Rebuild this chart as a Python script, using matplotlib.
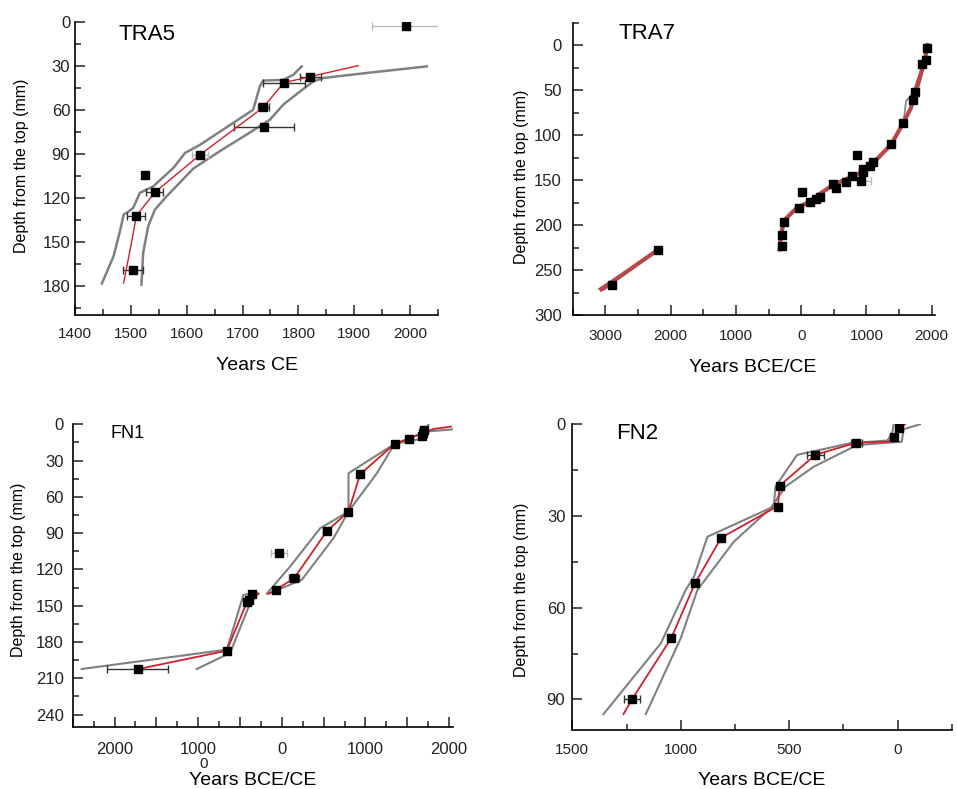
import numpy as np
import matplotlib
matplotlib.use('Agg')
import matplotlib.pyplot as plt
from matplotlib.ticker import MultipleLocator, FuncFormatter

plt.rcParams['font.family'] = ['Liberation Sans', 'DejaVu Sans']

RED = '#d0202c'
RED7 = '#b8464a'
GRAY = '#808080'

# ---------------- TRA5 ----------------
tra5_yr = [1993, 1821, 1774, 1737, 1738, 1624, 1525, 1543, 1510, 1504]
tra5_d = [2.5, 37.3, 41.4, 58.3, 71.5, 90.6, 104.2, 116.3, 132.2, 169.5]
tra5_err = [62, 19, 38, 10, 54, 15, 0, 15, 16, 18]
tra5_light = [True, False, False, False, False, True, False, False, False, False]
tra5_red_yr = [1487, 1501, 1510, 1543, 1624, 1737, 1774, 1821, 1907]
tra5_red_d = [178.2, 150.9, 132.2, 116.3, 90.6, 58.3, 41.4, 37.3, 29.8]
tra5_lo_yr = [1448, 1469, 1481, 1487, 1492, 1504, 1516, 1540, 1576, 1597, 1624, 1719, 1731, 1737, 1773, 1791, 1806]
tra5_lo_d = [178.5, 160, 142, 131.5, 130.4, 127, 116.7, 112.2, 99.7, 89.4, 83.8, 59.9, 43.9, 40, 39.5, 36, 30.3]
tra5_hi_yr = [1519, 1522, 1531, 1543, 1564, 1612, 1660, 1715, 1749, 1773, 1803, 1827, 1845, 1922, 2030]
tra5_hi_d = [179.3, 157.7, 139.5, 128.1, 119, 100, 88, 75, 66.7, 56.4, 47.4, 40.5, 38.2, 34.8, 30.3]

# ---------------- TRA7 ----------------
tra7_yr = [1929, 1913, 1847, 1750, 1719, 1566, 1378, 1097, 1061, 954, 944, 857, 918, 781, 689, 495, 526,
           281, 230, 128, 10, -36, -270, -291, -296, -2194, -2903]
tra7_d = [3, 16, 20.4, 52.2, 60.7, 86, 110, 129.6, 134.4, 138.1, 140.7, 122.2, 150.7, 145.6, 151.9, 154.4, 159.3,
          168.9, 170.7, 174, 163.7, 180.7, 196.3, 211, 223.3, 227.8, 266.3]
tra7_red_yr = [1935, 1888, 1750, 1680, 1566, 1383, 1097, 893, 689, 485, 281, 128, -77, -255, -306, -330]
tra7_red_d = [0, 18.5, 53.7, 70, 86, 110, 131.5, 142.6, 148.9, 155.6, 165.6, 174, 181.5, 194.4, 209, 227]
tra7_lo_yr = [1925, 1875, 1709, 1607, 1566, 1370, 1080, 880, 680, 475, 270, 115, -90, -265, -315, -340]
tra7_lo_d = [0, 18, 53.7, 62, 86, 110, 131, 142, 149, 156, 166, 174.5, 182, 195, 209, 227]
tra7_hi_yr = [1945, 1900, 1760, 1690, 1580, 1395, 1110, 905, 700, 495, 290, 140, -65, -245, -296, -320]
tra7_hi_d = [0, 18.5, 53.5, 70, 86, 110, 131.5, 142.5, 148.5, 155, 165, 173.5, 181, 194, 209, 227]
tra7_red2_yr = [-2194, -3061]
tra7_red2_d = [227.5, 271.5]
tra7_lo2_yr = [-2210, -3100]
tra7_lo2_d = [229, 271]
tra7_hi2_yr = [-2180, -3020]
tra7_hi2_d = [226, 272]

# ---------------- FN1 ----------------
fn1_yr = [1695, 1687, 1675, 1515, 1348, 937, 797, 538, -36, 148, -68, -351, -391, -419, -658, -1722]
fn1_d = [4.7, 6.9, 9.4, 12.1, 16.2, 41.3, 72.1, 88.4, 106, 127.2, 136.8, 140.1, 145, 147.3, 187.2, 202.3]
fn1_err = [40, 0, 0, 0, 0, 0, 0, 40, 95, 60, 0, 0, 0, 0, 0, 365]
fn1_light = [False] * 8 + [True] + [False] * 7
fn1_red_yr = [-159, -68, 148, 538, 797, 937, 1348, 1515, 1687, 1814, 2022]
fn1_red_d = [140.1, 136.8, 127.2, 88.4, 72.1, 41.3, 16.2, 12.1, 6.9, 3.9, 1.9]
fn1_lo_yr = [-179, 100, 459, 797, 797, 1348, 1635, 1715, 1754]
fn1_lo_d = [140, 117.5, 85.9, 72.1, 40.5, 16.2, 12.4, 4.1, 0]
fn1_hi_yr = [-140, 239, 618, 797, 1136, 1348, 1734, 2053]
fn1_hi_d = [139.6, 128.5, 94.1, 72.1, 40.5, 16.2, 6, 4.1]
fn1_red2_yr = [-1714, -658, -419, -351, -279]
fn1_red2_d = [202.3, 187.2, 147.3, 140.1, 140]
fn1_lo2_yr = [-2392, -658, -459, -299]
fn1_lo2_d = [202.3, 186.3, 141, 139.6]
fn1_hi2_yr = [-1017, -618, -379, -279]
fn1_hi2_d = [202.3, 189, 147.8, 140]

# ---------------- FN2 ----------------
fn2_yr = [8, -18, -190, -379, -544, -552, -813, -934, -1044, -1225]
fn2_d = [1.3, 4.1, 6.0, 10.0, 20.1, 27.2, 37.1, 52.0, 70.0, 90.0]
fn2_err = [0, 0, 25, 40, 0, 0, 0, 0, 0, 38]
fn2_red_yr = [35, 8, -18, -41, -190, -379, -544, -552, -571, -813, -934, -1044, -1225, -1264]
fn2_red_d = [0, 1.3, 4.1, 5.7, 6.0, 10, 20.1, 27.2, 27.5, 37.1, 52, 70, 90, 94.8]
fn2_lo_yr = [-18, -23, -46, -218, -463, -563, -571, -877, -939, -977, -1092, -1356]
fn2_lo_d = [0, 2.4, 5.3, 6.2, 10, 20.4, 26.9, 36.8, 49.9, 54.2, 71.7, 94.8]
fn2_hi_yr = [104, 28, 20, -187, -387, -517, -586, -755, -923, -1000, -1161]
fn2_hi_d = [0, 1.6, 5.7, 6.8, 13.9, 20.4, 27.5, 38.4, 54.2, 70, 94.8]

W, H = 957, 789
fig = plt.figure(figsize=(W / 100, H / 100), dpi=100)


def box(l, t, r, b):
    return [l / W, 1 - b / H, (r - l) / W, (b - t) / H]


def bce(v, p):
    return f'{abs(int(round(v)))}'


def style(ax, xlim, ylim, xmaj, xmin, ymaj, ymin, xpad, ypad, fmt=None, xsize=11):
    ax.set_xlim(*xlim)
    ax.set_ylim(*ylim)
    for s in ('top', 'right'):
        ax.spines[s].set_visible(False)
    for s in ('left', 'bottom'):
        ax.spines[s].set_linewidth(1.2)
    ax.xaxis.set_major_locator(MultipleLocator(xmaj))
    ax.xaxis.set_minor_locator(MultipleLocator(xmin))
    ax.yaxis.set_major_locator(MultipleLocator(ymaj))
    ax.yaxis.set_minor_locator(MultipleLocator(ymin))
    if fmt is not None:
        ax.xaxis.set_major_formatter(FuncFormatter(fmt))
    ax.tick_params(which='both', direction='in', width=1.1, colors='#222222')
    ax.tick_params(which='major', length=7)
    ax.tick_params(which='minor', length=4)
    ax.tick_params(axis='x', which='major', pad=xpad, labelsize=xsize)
    ax.tick_params(axis='y', which='major', pad=ypad, labelsize=12)


def labels(ax, title, tsize, tx, ty, xl, xx, xy, yx, yy):
    ax.text(tx, ty, title, transform=ax.transAxes, fontsize=tsize, ha='center', va='center')
    ax.set_xlabel(xl, fontsize=14)
    ax.xaxis.set_label_coords(xx, xy)
    ax.xaxis.label.set_va('center')
    ax.set_ylabel('Depth from the top (mm)', fontsize=11.5)
    ax.yaxis.set_label_coords(yx, yy)
    ax.yaxis.label.set_va('center')
    ax.yaxis.label.set_fontweight('medium')


def points(ax, yr, d, err=None, light=None):
    n = len(yr)
    err = err if err is not None else [0] * n
    light = light if light is not None else [False] * n
    for x, y, e, lt in zip(yr, d, err, light):
        c = '#bbbbbb' if lt else '#333333'
        if e:
            ax.errorbar(x, y, xerr=e, fmt='none', ecolor=c, elinewidth=1.0, capsize=3, capthick=1.0, zorder=3)
    ax.plot(yr, d, 's', color='black', markersize=5.5, linestyle='none', zorder=5)


# TRA5
ax1 = fig.add_axes(box(75, 22, 438, 315))
ax1.plot(tra5_lo_yr, tra5_lo_d, color=GRAY, lw=1.8, zorder=2)
ax1.plot(tra5_hi_yr, tra5_hi_d, color=GRAY, lw=1.8, zorder=2)
ax1.plot(tra5_red_yr, tra5_red_d, color=RED, lw=1.0, zorder=4)
points(ax1, tra5_yr, tra5_d, tra5_err, tra5_light)
style(ax1, (1400, 2050), (200, 0), 100, 50, 30, 15, 9, 3.5)
labels(ax1, 'TRA5', 16, 0.198, 0.956, 'Years CE', 0.501, -0.171, -0.147, 0.51)

# TRA7
ax2 = fig.add_axes(box(572.7, 22.7, 935, 315))
for xs, ys in ((tra7_lo_yr, tra7_lo_d), (tra7_hi_yr, tra7_hi_d), (tra7_lo2_yr, tra7_lo2_d), (tra7_hi2_yr, tra7_hi2_d)):
    ax2.plot(xs, ys, color=GRAY, lw=1.2, zorder=2)
ax2.plot(tra7_red_yr, tra7_red_d, color=RED7, lw=3.0, zorder=4)
ax2.plot(tra7_red2_yr, tra7_red2_d, color=RED7, lw=3.0, zorder=4)
ax2.errorbar(918, 150.7, xerr=[[0], [150]], fmt='none', ecolor='#bbbbbb', elinewidth=1.0, capsize=3, zorder=3)
points(ax2, tra7_yr, tra7_d)
style(ax2, (-3500, 2050), (300, -25), 1000, 500, 50, 25, 10, 8, bce)
labels(ax2, 'TRA7', 16, 0.204, 0.964, 'Years BCE/CE', 0.498, -0.18, -0.141, 0.473)

# FN1
ax3 = fig.add_axes(box(72.7, 424.3, 453.3, 726.7))
for xs, ys in ((fn1_lo_yr, fn1_lo_d), (fn1_hi_yr, fn1_hi_d), (fn1_lo2_yr, fn1_lo2_d), (fn1_hi2_yr, fn1_hi2_d)):
    ax3.plot(xs, ys, color=GRAY, lw=1.5, zorder=2)
ax3.plot(fn1_red_yr, fn1_red_d, color=RED, lw=1.3, zorder=4)
ax3.plot(fn1_red2_yr, fn1_red2_d, color=RED, lw=1.3, zorder=4)
points(ax3, fn1_yr, fn1_d, fn1_err, fn1_light)
style(ax3, (-2500, 2050), (250, 0), 500, 250, 30, 15, 11, 6.5,
      lambda v, p: bce(v, p) if abs(v) % 1000 == 0 else '', xsize=12)
labels(ax3, 'FN1', 13, 0.143, 0.970, 'Years BCE/CE', 0.474, -0.177, -0.143, 0.518)
fig.text(204 / W, 1 - 764 / H, '0', fontsize=11, ha='center', va='center', color='#222222')

# FN2
ax4 = fig.add_axes(box(572.3, 424.3, 951.7, 730))
ax4.plot(fn2_lo_yr, fn2_lo_d, color=GRAY, lw=1.5, zorder=2)
ax4.plot(fn2_hi_yr, fn2_hi_d, color=GRAY, lw=1.5, zorder=2)
ax4.plot(fn2_red_yr, fn2_red_d, color=RED, lw=1.3, zorder=4)
points(ax4, fn2_yr, fn2_d, fn2_err)
style(ax4, (-1500, 250), (100, 0), 500, 250, 30, 15, 9.5, 5, bce)
labels(ax4, 'FN2', 16, 0.17, 0.971, 'Years BCE/CE', 0.499, -0.164, -0.133, 0.458)

fig.savefig('out.png', dpi=100)
